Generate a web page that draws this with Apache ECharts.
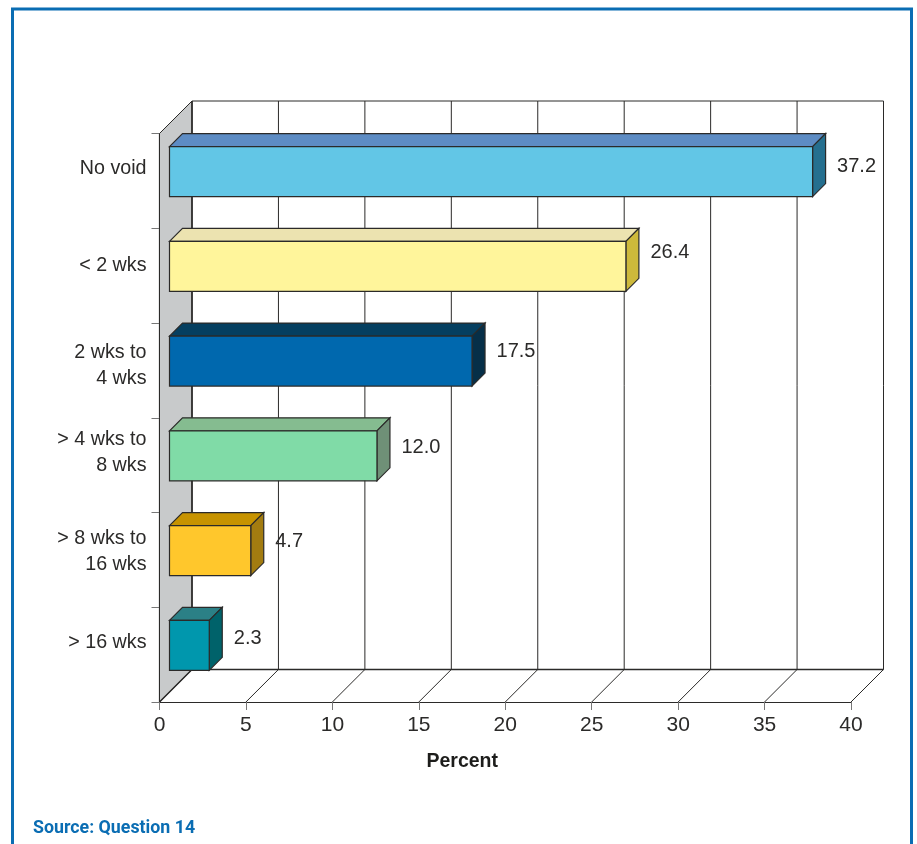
<!DOCTYPE html>
<html>
<head>
<meta charset="utf-8">
<style>html,body{margin:0;padding:0;background:#fff}#chart{width:917px;height:844px}</style>
<script src="https://cdn.jsdelivr.net/npm/echarts@6/dist/echarts.min.js"></script>
</head>
<body>
<div id="chart"></div>
<script>
// Length of time homes stood empty, share of responses
const categories = ['No void', '< 2 wks', '2 wks to\n4 wks', '> 4 wks to\n8 wks', '> 8 wks to\n16 wks', '> 16 wks'];
const percentValues = [37.2, 26.4, 17.5, 12.0, 4.7, 2.3];
const percentTicks = [0, 5, 10, 15, 20, 25, 30, 35, 40];
const axisTitle = 'Percent';
const sourceNote = 'Source: Question 14';

// Bar shading: front, top and side faces
const frontColors = ['#62c6e6', '#fff59b', '#0068ae', '#80dba7', '#ffc72c', '#0097ad'];
const topColors = ['#5d8cc4', '#ece3b0', '#053f60', '#85bc90', '#c79300', '#2b8086'];
const sideColors = ['#256f8f', '#cdb93b', '#062f48', '#6f9077', '#a37c10', '#00626a'];

// Vertical lift of labels relative to their bar or band
const categoryLabelLift = [12.5, 10.5, 4.5, 12.5, 8.5, 12.5];
const valueLabelLift = [5, 14, 10, 8, 9, 7];

// Oblique projection of the box and of the bars inside it
const WALL_DEPTH = 32.5;
const BAR_INSET_X = 10;
const BAR_INSET_Y = 9.3;
const BAR_DEPTH = 13;
const BAR_RATIO = 0.528;
const LINE_HEIGHT = 26;
const INK = '#2b2a29';
const FRAME = '#0a6db3';
const FONT = '"Liberation Sans", Arial, sans-serif';

function poly(points, fill, width) {
  return {
    type: 'polygon',
    shape: { points: points },
    style: { fill: fill, stroke: INK, lineWidth: width === undefined ? 1.2 : width, lineJoin: 'miter' }
  };
}

function seg(x1, y1, x2, y2, width) {
  return {
    type: 'line',
    shape: { x1: x1, y1: y1, x2: x2, y2: y2 },
    style: { stroke: INK, lineWidth: width === undefined ? 1 : width }
  };
}

// Side wall, back wall and floor of the box, one group per tick
function renderBox(params, api) {
  const v = api.value(0);
  const sys = params.coordSys;
  const x = api.coord([v, 0])[0];
  const top = sys.y;
  const bottom = sys.y + sys.height;
  const d = WALL_DEPTH;
  const children = [];
  if (params.dataIndex === 0) {
    children.push({
      type: 'polygon',
      shape: { points: [[x, top], [x + d, top - d], [x + d, bottom - d], [x, bottom]] },
      style: { fill: '#c8cacb', stroke: INK, lineWidth: 1 }
    });
    children.push(seg(x + d, top - d, sys.x + sys.width + d, top - d, 1));
    children.push(seg(x + d, bottom - d, sys.x + sys.width + d, bottom - d, 1.4));
    children.push(seg(x + d, top - d, x + d, bottom - d, 1.6));
    children.push(seg(x, bottom, x + d, bottom - d, 1.4));
  } else {
    children.push(seg(x + d, top - d, x + d, bottom - d, 1));
    children.push(seg(x, bottom, x + d, bottom - d, 1));
  }
  return { type: 'group', children: children };
}

// One oblique bar: front face, top face, side face and value label
function renderBar(params, api) {
  const value = api.value(0);
  const index = api.value(1);
  const start = api.coord([0, index]);
  const end = api.coord([value, index]);
  const band = api.size([0, 1])[1];
  const h = band * BAR_RATIO;
  const x0 = start[0] + BAR_INSET_X;
  const x1 = end[0] + BAR_INSET_X;
  const y0 = start[1] - BAR_INSET_Y - h / 2;
  const y1 = y0 + h;
  const d = BAR_DEPTH;
  return {
    type: 'group',
    children: [
      poly([[x0, y0], [x0 + d, y0 - d], [x1 + d, y0 - d], [x1, y0]], topColors[index]),
      poly([[x1, y0], [x1 + d, y0 - d], [x1 + d, y1 - d], [x1, y1]], sideColors[index]),
      poly([[x0, y0], [x1, y0], [x1, y1], [x0, y1]], frontColors[index]),
      {
        type: 'text',
        style: {
          x: x1 + 24.5,
          y: (y0 + y1) / 2 - valueLabelLift[index],
          text: value.toFixed(1),
          fill: INK,
          font: '20px ' + FONT,
          textAlign: 'left',
          textVerticalAlign: 'middle'
        }
      }
    ]
  };
}

// Each category label gets its own style so its lift can differ
const categoryRich = {};
categoryLabelLift.forEach(function (lift, i) {
  categoryRich['last' + i] = { fontSize: 19.7, fontFamily: FONT, color: INK, lineHeight: LINE_HEIGHT + lift * 2, padding: [0, 0, lift * 2, 0], align: 'right' };
  categoryRich['line' + i] = { fontSize: 19.7, fontFamily: FONT, color: INK, lineHeight: LINE_HEIGHT, align: 'right' };
});

const chart = echarts.init(document.getElementById('chart'), null, { renderer: 'canvas' });
chart.setOption({
  animation: false,
  backgroundColor: '#ffffff',
  grid: { left: 159.5, right: 66, top: 133.5, bottom: 142, containLabel: false },
  xAxis: {
    type: 'value',
    min: 0,
    max: 40,
    interval: 5,
    name: axisTitle,
    nameLocation: 'middle',
    nameGap: 50,
    nameTextStyle: { fontFamily: FONT, fontWeight: 'bold', fontSize: 19.5, color: '#1d1d1b', padding: [0, 86, 0, 0] },
    axisLine: { show: true, lineStyle: { color: INK, width: 1.2 } },
    axisTick: { show: true, length: 8, lineStyle: { color: '#777777', width: 1 } },
    axisLabel: { fontFamily: FONT, fontSize: 21, color: INK, margin: 13 },
    splitLine: { show: false }
  },
  yAxis: {
    type: 'category',
    inverse: true,
    data: categories,
    axisLine: { show: true, onZero: false, lineStyle: { color: INK, width: 1.2 } },
    axisTick: { show: true, length: 8, alignWithLabel: false, lineStyle: { color: '#777777', width: 1 } },
    axisLabel: {
      margin: 13,
      interval: 0,
      align: 'right',
      rich: categoryRich,
      formatter: function (value, i) {
        const lines = value.split('\n');
        return lines.map(function (t, k) {
          return '{' + (k === lines.length - 1 ? 'last' : 'line') + i + '|' + t + '}';
        }).join('\n');
      }
    },
    splitLine: { show: false }
  },
  series: [
    {
      type: 'custom',
      name: 'box',
      coordinateSystem: 'cartesian2d',
      renderItem: renderBox,
      clip: false,
      silent: true,
      z: 1,
      data: percentTicks.map(function (t) { return [t]; }),
      encode: { x: 0 }
    },
    {
      type: 'custom',
      name: 'Percent',
      coordinateSystem: 'cartesian2d',
      renderItem: renderBar,
      clip: false,
      z: 3,
      data: percentValues.map(function (v, i) { return [v, i]; }),
      encode: { x: 0, y: 1 }
    }
  ],
  graphic: [
    {
      type: 'polyline',
      z: 10,
      silent: true,
      shape: { points: [[12.5, 844], [12.5, 9], [911.5, 9], [911.5, 844]] },
      style: { fill: 'none', stroke: FRAME, lineWidth: 3 }
    },
    {
      type: 'text',
      z: 10,
      silent: true,
      left: 33,
      top: 820,
      style: { text: sourceNote, fill: FRAME, font: 'bold 17.8px Roboto, ' + FONT }
    }
  ]
});
</script>
</body>
</html>
